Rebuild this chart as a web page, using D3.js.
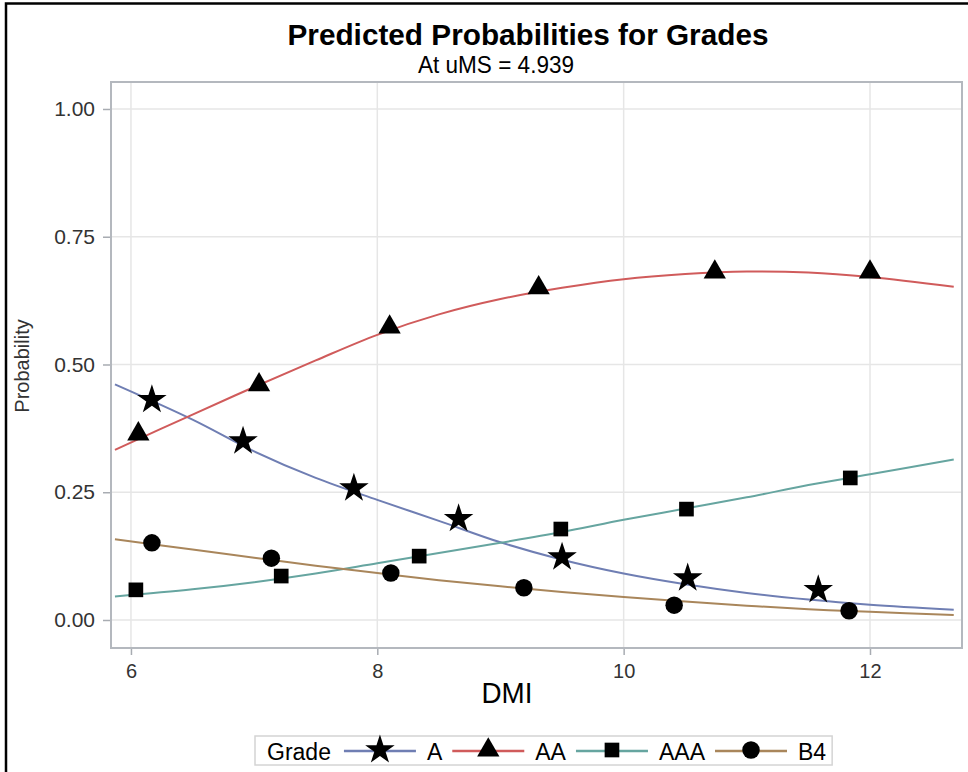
<!DOCTYPE html>
<html>
<head>
<meta charset="utf-8">
<script src="https://cdn.jsdelivr.net/npm/d3@7"></script>
<style>
  html, body { margin: 0; padding: 0; background: #fff; }
  svg { display: block; }
  text { font-family: "Liberation Sans", Arial, sans-serif; }
</style>
</head>
<body>
<svg id="chart" width="968" height="772"></svg>
<script>
// Predicted probability curves per grade, sampled along DMI
const curveX   = [5.87, 6.5, 7.0, 7.5, 8.0, 8.5, 9.0, 9.5, 10.0, 10.5, 11.0, 11.5, 12.0, 12.68];
const curveA   = [0.461, 0.392, 0.330, 0.278, 0.235, 0.194, 0.152, 0.118, 0.091, 0.070, 0.053, 0.040, 0.030, 0.020];
const curveAA  = [0.333, 0.402, 0.456, 0.508, 0.558, 0.598, 0.628, 0.650, 0.667, 0.677, 0.682, 0.680, 0.671, 0.652];
const curveAAA = [0.046, 0.060, 0.074, 0.091, 0.111, 0.131, 0.151, 0.172, 0.196, 0.218, 0.240, 0.264, 0.285, 0.314];
const curveB4  = [0.158, 0.138, 0.122, 0.106, 0.092, 0.078, 0.066, 0.055, 0.045, 0.036, 0.028, 0.021, 0.016, 0.010];

// Marker positions per grade
const markA   = { x: [6.17, 6.91, 7.81, 8.66, 9.50, 10.52, 11.58], y: [0.431, 0.350, 0.258, 0.198, 0.123, 0.082, 0.059] };
const markAA  = { x: [6.06, 7.04, 8.10, 9.31, 10.74, 12.00],       y: [0.364, 0.460, 0.573, 0.650, 0.681, 0.681] };
const markAAA = { x: [6.04, 7.22, 8.34, 9.49, 10.51, 11.84],       y: [0.059, 0.086, 0.125, 0.178, 0.217, 0.278] };
const markB4  = { x: [6.17, 7.14, 8.11, 9.19, 10.41, 11.83],       y: [0.151, 0.121, 0.092, 0.063, 0.029, 0.018] };

const grades  = ["A", "AA", "AAA", "B4"];
const xTicks  = [6, 8, 10, 12];
const yTicks  = [0, 0.25, 0.5, 0.75, 1.0];

const colors  = { A: "#6F7EB3", AA: "#D05B5B", AAA: "#66A5A0", B4: "#A9865B" };
const shapes  = { A: d3.symbolStar, AA: d3.symbolTriangle, AAA: d3.symbolSquare, B4: d3.symbolCircle };
const sizes   = { A: 270, AA: 215, AAA: 215, B4: 240 };

const series = [
  { key: "A",   ys: curveA,   marks: markA },
  { key: "AA",  ys: curveAA,  marks: markAA },
  { key: "AAA", ys: curveAAA, marks: markAAA },
  { key: "B4",  ys: curveB4,  marks: markB4 }
];

const svg = d3.select("#chart");

// outer border (left and top edges)
svg.append("path")
  .attr("d", "M6,772 L6,3.5 L968,3.5")
  .attr("fill", "none").attr("stroke", "#000").attr("stroke-width", 2.5);

const plot = { left: 111, right: 962, top: 82, bottom: 648 };

const x = d3.scaleLinear().domain([5.838, 12.747]).range([plot.left, plot.right]);
const y = d3.scaleLinear().domain([-0.0548, 1.0528]).range([plot.bottom, plot.top]);

// gridlines
const grid = svg.append("g");
grid.selectAll("line.gx").data(xTicks).join("line")
  .attr("x1", d => x(d)).attr("x2", d => x(d))
  .attr("y1", plot.top).attr("y2", plot.bottom)
  .attr("stroke", "#e6e6e6").attr("stroke-width", 1.5);
grid.selectAll("line.gy").data(yTicks).join("line")
  .attr("x1", plot.left).attr("x2", plot.right)
  .attr("y1", d => y(d)).attr("y2", d => y(d))
  .attr("stroke", "#e6e6e6").attr("stroke-width", 1.5);

// axes
const xAxis = d3.axisBottom(x).tickValues(xTicks).tickFormat(d3.format("d")).tickSize(7).tickPadding(9);
const yAxis = d3.axisLeft(y).tickValues(yTicks).tickFormat(d3.format(".2f")).tickSize(8).tickPadding(8);

const gx = svg.append("g").attr("transform", `translate(0,${plot.bottom})`).call(xAxis);
const gy = svg.append("g").attr("transform", `translate(${plot.left},0)`).call(yAxis);
[gx, gy].forEach(g => {
  g.select(".domain").remove();
  g.selectAll(".tick line").attr("stroke", "#a8acb2").attr("stroke-width", 1.5);
  g.selectAll(".tick text").attr("fill", "#333")
    .style("font-family", "'Liberation Sans', Arial, sans-serif");
});
gx.selectAll(".tick text").style("font-size", "20px");
gy.selectAll(".tick text").style("font-size", "21px");

// plot frame
svg.append("rect")
  .attr("x", plot.left).attr("y", plot.top)
  .attr("width", plot.right - plot.left).attr("height", plot.bottom - plot.top)
  .attr("fill", "none").attr("stroke", "#b4b8be").attr("stroke-width", 2);

// curves
const line = d3.line().curve(d3.curveCatmullRom.alpha(0.5));
const curves = svg.append("g");
series.forEach(s => {
  curves.append("path")
    .datum(curveX.map((v, i) => [x(v), y(s.ys[i])]))
    .attr("d", line)
    .attr("fill", "none").attr("stroke", colors[s.key]).attr("stroke-width", 2);
});

// markers
const marks = svg.append("g");
series.forEach(s => {
  const pts = s.marks.x.map((v, i) => [v, s.marks.y[i]]);
  marks.selectAll(null).data(pts).join("path")
    .attr("transform", d => `translate(${x(d[0])},${y(d[1])})`)
    .attr("d", d3.symbol().type(shapes[s.key]).size(sizes[s.key]))
    .attr("fill", "#000");
});

// titles
svg.append("text").attr("x", 528).attr("y", 45).attr("text-anchor", "middle")
  .style("font-size", "30px").style("font-weight", "bold").attr("fill", "#000")
  .attr("textLength", 481).attr("lengthAdjust", "spacingAndGlyphs")
  .text("Predicted Probabilities for Grades");
svg.append("text").attr("x", 496).attr("y", 73).attr("text-anchor", "middle")
  .style("font-size", "23px").attr("fill", "#000")
  .attr("textLength", 156).attr("lengthAdjust", "spacingAndGlyphs")
  .text("At uMS = 4.939");

// axis labels
svg.append("text").attr("x", 507).attr("y", 703).attr("text-anchor", "middle")
  .style("font-size", "29px").attr("fill", "#000")
  .attr("textLength", 51).attr("lengthAdjust", "spacingAndGlyphs")
  .text("DMI");
svg.append("text").attr("transform", "translate(29,366) rotate(-90)").attr("text-anchor", "middle")
  .style("font-size", "20px").attr("fill", "#333").text("Probability");

// legend
const legend = svg.append("g");
const legBox = legend.append("rect")
  .attr("y", 736).attr("height", 29)
  .attr("fill", "#fff").attr("stroke", "#d4d4d4").attr("stroke-width", 1.5);
let cx = 267;
const baseY = 760, midY = 751;
const title = legend.append("text").attr("x", cx).attr("y", baseY)
  .style("font-size", "23px").attr("fill", "#000").text("Grade");
cx += title.node().getComputedTextLength() + 13;
grades.forEach(g => {
  const segW = 72;
  legend.append("line").attr("x1", cx).attr("x2", cx + segW).attr("y1", midY).attr("y2", midY)
    .attr("stroke", colors[g]).attr("stroke-width", 2.5);
  legend.append("path").attr("transform", `translate(${cx + segW / 2},${midY - 1})`)
    .attr("d", d3.symbol().type(shapes[g]).size(sizes[g])).attr("fill", "#000");
  cx += segW + 11;
  const t = legend.append("text").attr("x", cx).attr("y", baseY)
    .style("font-size", "23px").attr("fill", "#000").text(g);
  cx += t.node().getComputedTextLength() + 10;
});
legBox.attr("x", 255).attr("width", cx - 4 - 255);
</script>
</body>
</html>
